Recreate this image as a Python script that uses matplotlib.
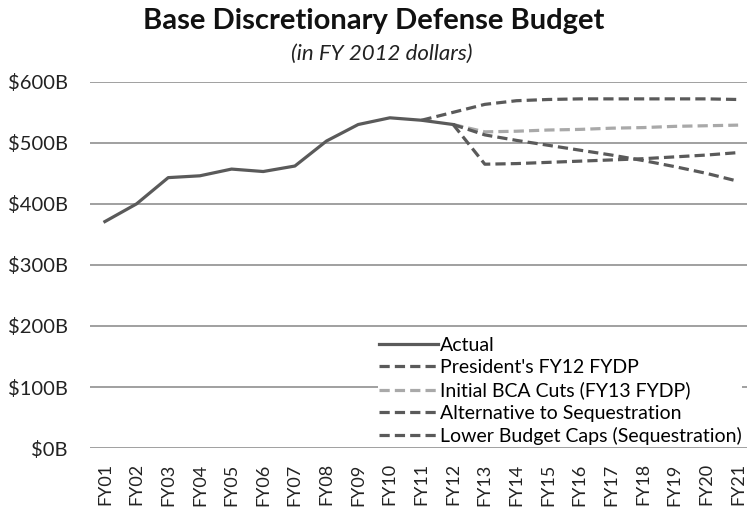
import matplotlib
matplotlib.use("Agg")
import matplotlib.pyplot as plt

years = ["FY%02d" % y for y in range(1, 22)]

actual = [371, 400, 443, 446, 457, 453, 462, 503, 530, 541, 537, 530]
president = [537, 550, 563, 569, 571, 572, 572, 572, 572, 572, 571]
bca_cuts = [530, 518, 519, 521, 522, 524, 525, 527, 528, 529]
alternative = [530, 513, 504, 496, 488, 480, 471, 461, 450, 437]
lower_caps = [530, 465, 466, 468, 470, 472, 474, 477, 480, 484]

yticks = [0, 100, 200, 300, 400, 500, 600]
ytick_labels = ["$%dB" % v for v in yticks]

plt.rcParams["font.family"] = ["Lato", "DejaVu Sans"]

fig = plt.figure(figsize=(7.47, 5.08), dpi=100)
ax = fig.add_axes([0.1205, 0.118, 0.8795, 0.721])

dark = "#5a5a5a"
light = "#a9a9a9"
dash = (3.2, 1.6)

x_act = list(range(len(actual)))
ax.plot(x_act, actual, color=dark, lw=2.3, label="Actual", zorder=5)
ax.plot(list(range(10, 21)), president, color=dark, lw=2.3,
        linestyle=(0, dash), label="President's FY12 FYDP", zorder=4)
ax.plot(list(range(11, 21)), bca_cuts, color=light, lw=2.3,
        linestyle=(0, dash), label="Initial BCA Cuts (FY13 FYDP)", zorder=4)
ax.plot(list(range(11, 21)), alternative, color=dark, lw=2.3,
        linestyle=(0, dash), label="Alternative to Sequestration", zorder=4)
ax.plot(list(range(11, 21)), lower_caps, color=dark, lw=2.3,
        linestyle=(0, dash), label="Lower Budget Caps (Sequestration)", zorder=4)

ax.set_xlim(-0.47, 20.28)
ax.set_ylim(0, 600)
ax.set_yticks(yticks)
ax.set_yticklabels(ytick_labels, fontsize=14.5, color="#222222")
ax.set_xticks(range(len(years)))
ax.set_xticklabels(years, rotation=90, fontsize=13, color="#222222")
ax.tick_params(axis="x", length=0, pad=11)
ax.tick_params(axis="y", length=0, pad=16)

for s in ax.spines.values():
    s.set_visible(False)
ax.grid(axis="y", color="#a0a0a0", lw=1.4, zorder=0)
ax.set_axisbelow(True)

leg = ax.legend(loc="lower right", bbox_to_anchor=(0.993, 0.006), frameon=True,
                fontsize=14, handlelength=3.0, handletextpad=0.1,
                labelspacing=0.27, borderpad=0.05, borderaxespad=0.0)
leg.get_frame().set_edgecolor("none")
leg.get_frame().set_facecolor("white")
leg.get_frame().set_alpha(1.0)

fig.text(0.5, 0.958, "Base Discretionary Defense Budget", ha="center",
         va="center", fontsize=21, fontweight="bold", color="#111111")
fig.text(0.511, 0.893, "(in FY 2012 dollars)", ha="center", va="center",
         fontsize=16, style="italic", color="#222222")

fig.savefig("out.png", dpi=100, facecolor="white")
